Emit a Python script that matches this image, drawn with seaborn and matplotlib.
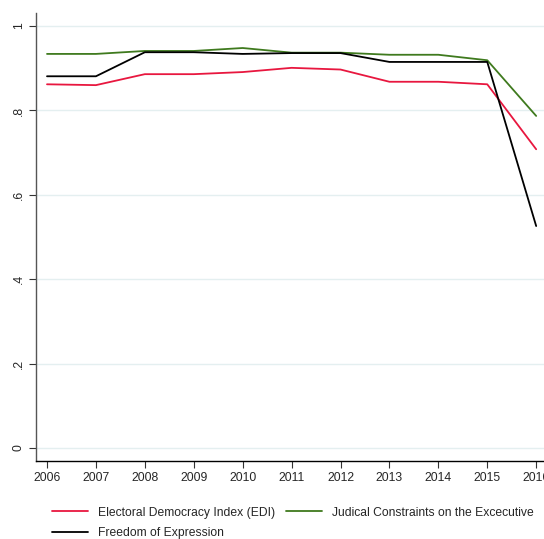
import numpy as np
import pandas as pd
import seaborn as sns
from matplotlib import pyplot as plt

years = [2006, 2007, 2008, 2009, 2010, 2011, 2012, 2013, 2014, 2015, 2016]
edi = [0.862, 0.860, 0.886, 0.886, 0.891, 0.901, 0.897, 0.868, 0.868, 0.862, 0.708]
judicial = [0.934, 0.934, 0.941, 0.941, 0.948, 0.937, 0.937, 0.932, 0.932, 0.919, 0.787]
freedom = [0.881, 0.881, 0.938, 0.938, 0.934, 0.936, 0.936, 0.915, 0.915, 0.915, 0.526]

series_names = ['Electoral Democracy Index (EDI)',
                'Judical Constraints on the Excecutive',
                'Freedom of Expression']
series_colors = ['#e8173f', '#3f7a1e', '#000000']
y_ticks = [0, 0.2, 0.4, 0.6, 0.8, 1.0]
y_tick_labels = ['0', '.2', '.4', '.6', '.8', '1']


def main():
    df = pd.DataFrame({
        'year': years * 3,
        'value': edi + judicial + freedom,
        'series': [series_names[0]] * len(years)
                  + [series_names[1]] * len(years)
                  + [series_names[2]] * len(years),
    })

    sns.set_theme(style='white')
    plt.rcParams['font.family'] = ['Liberation Sans', 'DejaVu Sans']

    fig = plt.figure(figsize=(5.44, 5.39), dpi=100)
    ax = fig.add_axes([36 / 544, 78 / 539, 1 - 36 / 544, (461 - 13) / 539])

    sns.lineplot(data=df, x='year', y='value', hue='series',
                 palette=dict(zip(series_names, series_colors)),
                 linewidth=1.3, ax=ax, legend=False)

    ax.set_xlim(2005.775, 2016.16)
    ax.set_ylim(-0.031, 1.031)
    ax.set_xticks(years)
    ax.set_xticklabels([str(y) for y in years], fontsize=8.8)
    ax.set_yticks(y_ticks)
    ax.set_yticklabels(y_tick_labels, fontsize=8.8, rotation=90, va='center')
    ax.set_xlabel('')
    ax.set_ylabel('')

    ax.grid(axis='y', color='#e4eff0', linewidth=1.0)
    ax.set_axisbelow(True)
    ax.tick_params(axis='both', direction='out', length=5, width=0.8,
                   color='#333333', bottom=True, left=True, pad=3)
    for side in ['top', 'right']:
        ax.spines[side].set_visible(False)
    ax.spines['left'].set_color('#555555')
    ax.spines['bottom'].set_color('#000000')
    ax.spines['left'].set_linewidth(1.0)
    ax.spines['bottom'].set_linewidth(1.0)

    # legend: EDI and Freedom in first column, Judicial in second
    handles = [plt.Line2D([], [], color=c, linewidth=1.3) for c in series_colors]
    order = [0, 2, 1]
    fig.legend([handles[i] for i in order], [series_names[i] for i in order],
               ncol=2, frameon=False, fontsize=8.7,
               loc='lower left', bbox_to_anchor=(52 / 544, 0.0),
               handlelength=2.95, handletextpad=0.85, columnspacing=0.9,
               labelspacing=0.7, borderaxespad=0.0, borderpad=0.0)

    fig.savefig('out.png', dpi=100, facecolor='white')


if __name__ == '__main__':
    main()
